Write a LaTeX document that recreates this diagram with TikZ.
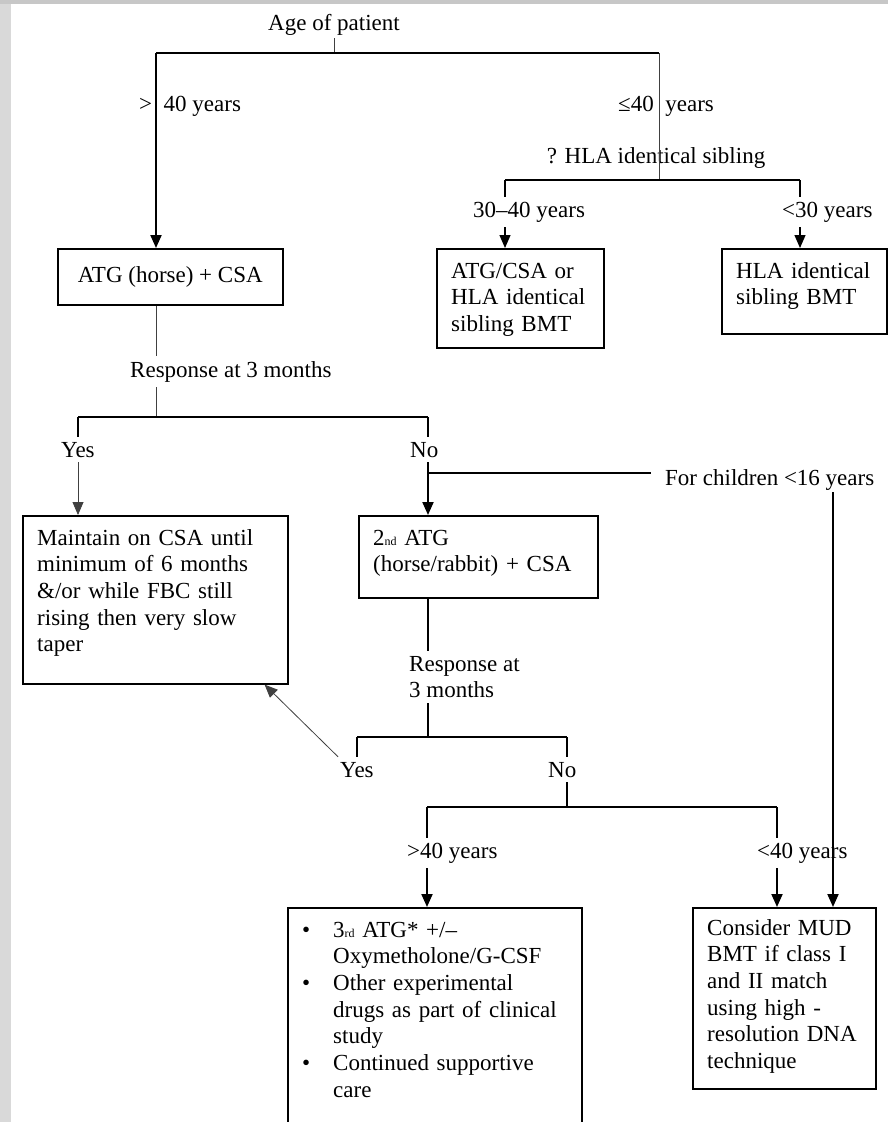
\documentclass[tikz,border=0pt]{standalone}
\usepackage{fontspec}
\setmainfont{Liberation Serif}
\usetikzlibrary{arrows.meta,calc,positioning}

\tikzset{
  box/.style={draw, line width=1.6pt, anchor=north west, inner sep=0pt},
  boxtext/.style={anchor=base west, align=left, text width=300pt, inner sep=0pt},
  cut/.style={anchor=base west, inner xsep=2pt, inner ysep=5pt},
  bar/.style={line width=2pt},
  wire/.style={line width=1.3pt},
  faint/.style={line width=0.8pt, black!75},
  tip/.style={-{Triangle[width=11pt,length=13pt]}},
}
\newcommand{\blt}{\makebox[31pt][l]{\textbullet}}
\newcommand{\ind}{\hspace*{31pt}}
\newcommand{\ordsuf}[1]{{\fontsize{12}{12}\selectfont #1}}

\begin{document}
\begin{tikzpicture}[x=1pt, y=-1pt, font=\fontsize{23}{26.7}\selectfont]

  \useasboundingbox (0,0) rectangle (888,1122) ;
  \fill [black!15] (0,0) rectangle (11,1122) ;
  \fill [black!22] (0,0) rectangle (888,4) ;

  % boxes
  \node [box, minimum width=225pt, minimum height=56pt] (atg) at (57,248) {ATG (horse) + CSA} ;
  \node [box, minimum width=167pt, minimum height=99pt] (sib) at (436,248) {} ;
  \node [boxtext] (sibtext) at (451,278) {ATG/CSA or\\HLA identical\\sibling BMT} ;
  \node [box, minimum width=165pt, minimum height=85pt] (sibbmt) at (721,248) {} ;
  \node [boxtext] (sibbmttext) at (736,278) {HLA identical\\sibling BMT} ;
  \node [box, minimum width=265pt, minimum height=168pt] (keep) at (22,515) {} ;
  \node [boxtext] (keeptext) at (37,545) {Maintain on CSA until\\minimum of 6 months\\\&/or while FBC still\\rising then very slow\\taper} ;
  \node [box, minimum width=239pt, minimum height=82pt] (atgtwo) at (358,515) {} ;
  \node [boxtext] (atgtwotext) at (373,545) {2\ordsuf{nd} ATG\\(horse/rabbit) + CSA} ;
  \node [box, minimum width=294pt, minimum height=240pt] (drugs) at (287,907) {} ;
  \node [boxtext] (drugstext) at (302,937) {\blt 3\ordsuf{rd} ATG* +/–\\\ind Oxymetholone/G-CSF\\\blt Other experimental\\\ind drugs as part of clinical\\\ind study\\\blt Continued supportive\\\ind care} ;
  \node [box, minimum width=183pt, minimum height=181pt] (mud) at (692,907) {} ;
  \node [boxtext] (mudtext) at (707,935) {Consider MUD\\BMT if class I\\and II match\\using high -\\resolution DNA\\technique} ;

  % labels
  \node [anchor=base] (age) at (334,30) {Age of patient} ;
  \node [anchor=base west, inner sep=1pt] (older) at (138,111) {>\enspace 40 years} ;
  \node [anchor=base west, inner sep=1pt] (younger) at (617,111) {≤40\enspace years} ;
  \node [anchor=base] (hla) at (656,163) {? HLA identical sibling} ;
  \node [cut] (mid) at (471,217) {30–40 years} ;
  \node [cut] (young) at (780,217) {<30 years} ;
  \node [cut] (resp) at (128,377) {Response at 3 months} ;
  \node [cut] (yes) at (59,457) {Yes} ;
  \node [cut] (no) at (408,457) {No} ;
  \node [anchor=base west, inner xsep=14pt, inner ysep=2pt] (kids) at (651,485) {For children <16 years} ;
  \node [cut, anchor=north west, align=left] (resptwo) at (407,651) {Response at\\3 months} ;
  \node [cut] (yestwo) at (338,777) {Yes} ;
  \node [cut] (notwo) at (546,777) {No} ;
  \node [cut] (over) at (405,858) {>40 years} ;
  \node [cut] (under) at (755,858) {<40 years} ;

  % junctions
  \coordinate (agel) at (156,53) ;
  \coordinate (ager) at (659,53) ;
  \coordinate (hlaj) at (659,180) ;
  \coordinate (sibl) at (505,180) ;
  \coordinate (sibr) at (800,180) ;
  \coordinate (yesl) at (78,417) ;
  \coordinate (nor) at (428,417) ;
  \coordinate (kidj) at (428,473) ;
  \coordinate (kidx) at (833,907) ;
  \coordinate (ytl) at (357,737) ;
  \coordinate (ntr) at (567,737) ;
  \coordinate (oldl) at (427,807) ;
  \coordinate (oldr) at (777,807) ;

  % age of patient
  \draw [faint] (age.south) -- (age.south |- agel) ;
  \draw [bar] (agel) -- (ager) ;
  \draw [bar, tip] (agel) -- (atg.north -| agel) ;
  \draw [faint] (ager) -- (hlaj) ;
  \draw [bar] (sibl) -- (sibr) ;
  \draw [wire] (sibl) -- (mid.north -| sibl) ;
  \draw [wire, tip] (mid.south -| sibl) -- (sib.north -| sibl) ;
  \draw [wire] (sibr) -- (young.north -| sibr) ;
  \draw [wire, tip] (young.south -| sibr) -- (sibbmt.north -| sibr) ;

  % first response
  \draw [faint] (atg.south -| agel) -- (resp.north -| agel) ;
  \draw [faint] (resp.south -| agel) -- (agel |- yesl) ;
  \draw [bar] (yesl) -- (nor) ;
  \draw [wire] (yesl) -- (yes.north -| yesl) ;
  \draw [faint, tip] (yes.south -| yesl) -- (keep.north -| yesl) ;
  \draw [wire] (nor) -- (no.north -| nor) ;
  \draw [bar, tip] (no.south -| nor) -- (atgtwo.north -| nor) ;
  \draw [wire] (kidj) -- (kids.west |- kidj) ;
  \draw [bar, tip] (kids.south -| kidx) -- (mud.north -| kidx) ;

  % second response
  \draw [wire] (atgtwo.south -| nor) -- (resptwo.north -| nor) ;
  \draw [wire] (resptwo.south -| nor) -- (nor |- ytl) ;
  \draw [bar] (ytl) -- (ntr) ;
  \draw [wire] (ytl) -- (yestwo.north -| ytl) ;
  \draw [faint, tip] (yestwo.north west) -- ($(keep.south east)+(-24,0)$) ;
  \draw [wire] (ntr) -- (notwo.north -| ntr) ;
  \draw [wire] (notwo.south -| ntr) -- (ntr |- oldl) ;
  \draw [wire] (oldl) -- (oldr) ;
  \draw [wire] (oldl) -- (over.north -| oldl) ;
  \draw [bar, tip] (over.south -| oldl) -- (drugs.north -| oldl) ;
  \draw [wire] (oldr) -- (under.north -| oldr) ;
  \draw [bar, tip] (under.south -| oldr) -- (mud.north -| oldr) ;

\end{tikzpicture}
\end{document}
